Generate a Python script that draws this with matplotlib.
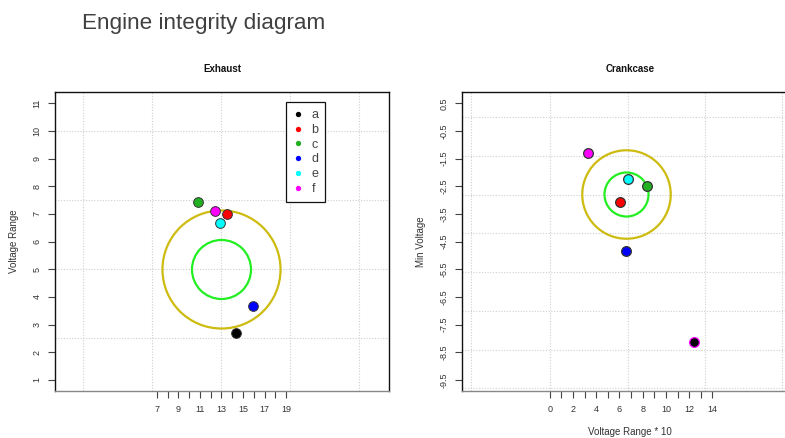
import matplotlib
matplotlib.use("Agg")
import matplotlib.pyplot as plt

plt.rcParams['font.family'] = ['Liberation Sans', 'DejaVu Sans']

# ---- data ----
labels = ['a', 'b', 'c', 'd', 'e', 'f']
colors = ['#000000', '#FF0000', '#22B022', '#0000FF', '#00FFFF', '#FF00FF']

exhaust_x = [14.33, 13.52, 10.86, 15.96, 12.90, 12.41]
exhaust_y = [2.70, 7.01, 7.43, 3.66, 6.66, 7.12]
exhaust_center = (13.0, 5.0)
exhaust_xticks = list(range(7, 20))
exhaust_xticklabels = [str(v) if v % 2 == 1 else '' for v in exhaust_xticks]
exhaust_yticks = list(range(1, 12))
exhaust_xgrid = [0.2, 6.6, 13.0, 19.4, 25.8]
exhaust_ygrid = [2.5, 5.0, 7.5, 10.0]

crank_x = [12.45, 6.05, 8.40, 6.54, 6.71, 3.32]
crank_y = [-8.12, -3.07, -2.49, -4.82, -2.22, -1.28]
crank_center = (6.6, -2.78)
crank_xticks = list(range(0, 15))
crank_xticklabels = [str(v) if v % 2 == 0 else '' for v in crank_xticks]
crank_yticks = [0.5, -0.5, -1.5, -2.5, -3.5, -4.5, -5.5, -6.5, -7.5, -8.5, -9.5]
crank_xgrid = [-6.8, 0.0, 6.7, 13.4, 20.0]
crank_ygrid = [0.0, -1.4, -2.8, -4.2, -5.6, -7.0, -8.4, -9.8]

# ---- figure ----
fig = plt.figure(figsize=(7.85, 4.38), dpi=100)

fig.text(82 / 785, 1 - 23 / 438, 'Engine integrity diagram', fontsize=16.2,
         color='#404040', ha='left', va='center')

ax1 = fig.add_axes([55.3 / 785, (438 - 391) / 438, 333.7 / 785, 298.7 / 438])
ax2 = fig.add_axes([462.3 / 785, (438 - 391) / 438, 335.0 / 785, 298.7 / 438])

tick_fs = 6.5


def style_axes(ax, xticks, xticklabels, yticks, yticklabels, xgrid, ygrid):
    for x in xgrid:
        ax.axvline(x, color='#cfcfcf', lw=0.8, ls=(0, (1, 1.5)), zorder=0)
    for y in ygrid:
        ax.axhline(y, color='#cfcfcf', lw=0.8, ls=(0, (1, 1.5)), zorder=0)
    ax.set_xticks(xticks)
    ax.set_xticklabels(xticklabels, fontsize=tick_fs, color='#333333')
    ax.set_yticks(yticks)
    ax.set_yticklabels(yticklabels, fontsize=tick_fs, color='#333333',
                       rotation=90, va='center')
    ax.tick_params(axis='both', length=5, width=0.8, color='#444444', pad=5)
    for side in ['left', 'top', 'right']:
        ax.spines[side].set_color('#111111')
        ax.spines[side].set_linewidth(1.0)
    ax.spines['bottom'].set_color('#888888')
    ax.spines['bottom'].set_linewidth(1.0)


# ---- Exhaust ----
ax1.set_xlim(-2.41, 28.55)
ax1.set_ylim(0.6, 11.4)
style_axes(ax1, exhaust_xticks, exhaust_xticklabels, exhaust_yticks,
           [str(v) for v in exhaust_yticks], exhaust_xgrid, exhaust_ygrid)
ax1.plot(*exhaust_center, marker='o', ms=85, mfc='none', mec='#CDBB10', mew=1.6, zorder=2)
ax1.plot(*exhaust_center, marker='o', ms=42.5, mfc='none', mec='#22EE22', mew=1.6, zorder=2)
for x, y, c, lab in zip(exhaust_x, exhaust_y, colors, labels):
    ax1.plot(x, y, 'o', ms=7, mfc=c, mec='#333333', mew=0.7, label=lab, zorder=3)
ax1.text(0.5, 1.078, 'Exhaust', transform=ax1.transAxes, ha='center', va='center',
         fontsize=7, fontweight='bold', color='#111111')
ax1.set_ylabel('Voltage Range', fontsize=7, color='#333333')
ax1.yaxis.set_label_coords(-0.110, 0.5)
leg = ax1.legend(loc='upper left', bbox_to_anchor=(0.691, 0.9665), markerscale=0.55,
                 fontsize=9, frameon=True, fancybox=False, edgecolor='#111111',
                 borderpad=0.55, labelspacing=0.22, handlelength=0.9,
                 handletextpad=0.6, borderaxespad=0, framealpha=1)
leg.get_frame().set_linewidth(0.9)
for h in leg.legend_handles:
    h.set_markeredgewidth(0)
for t in leg.get_texts():
    t.set_color('#444444')

# ---- Crankcase ----
ax2.set_xlim(-7.52, 21.3)
ax2.set_ylim(-9.9, 0.9)
style_axes(ax2, crank_xticks, crank_xticklabels, crank_yticks,
           [str(v) for v in crank_yticks], crank_xgrid, crank_ygrid)
ax2.plot(*crank_center, marker='o', ms=63.7, mfc='none', mec='#CDBB10', mew=1.6, zorder=2)
ax2.plot(*crank_center, marker='o', ms=31.7, mfc='none', mec='#22EE22', mew=1.6, zorder=2)
crank_edges = ['#FF00FF', '#333333', '#333333', '#333333', '#333333', '#333333']
for x, y, c, ec in zip(crank_x, crank_y, colors, crank_edges):
    ax2.plot(x, y, 'o', ms=7, mfc=c, mec=ec, mew=0.9, zorder=3)
ax2.text(0.5, 1.078, 'Crankcase', transform=ax2.transAxes, ha='center', va='center',
         fontsize=7, fontweight='bold', color='#111111')
ax2.set_ylabel('Min Voltage', fontsize=7, color='#333333')
ax2.yaxis.set_label_coords(-0.108, 0.5)
ax2.set_xlabel('Voltage Range * 10', fontsize=7, color='#333333')
ax2.xaxis.set_label_coords(0.5, -0.122)

fig.savefig('out.png', dpi=100)
